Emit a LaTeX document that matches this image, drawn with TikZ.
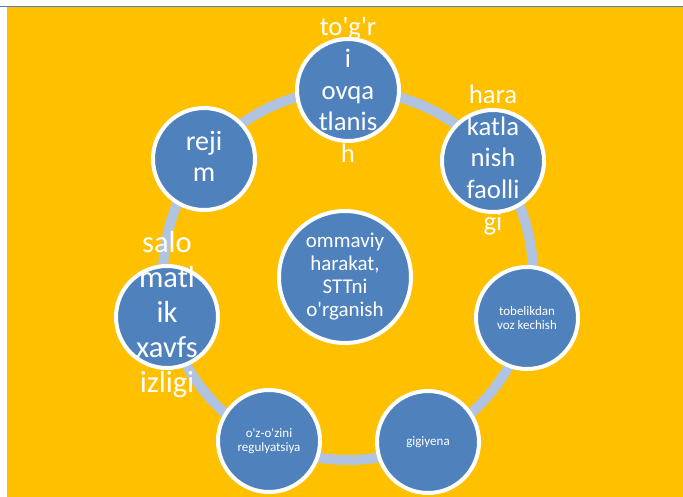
\documentclass[tikz,border=0pt]{standalone}
\usepackage{fontspec}
\setmainfont{Carlito}[Ligatures=TeXOff]
\definecolor{bgorange}{HTML}{FFC000}
\definecolor{bubblue}{HTML}{4F81BD}
\definecolor{ringblue}{HTML}{B0C3E0}
\definecolor{topline}{HTML}{4F81BD}
\tikzset{
  bub/.style={circle, draw=white, line width=4pt, fill=bubblue, minimum size=102pt, inner sep=0pt},
  bigbub/.style={circle, draw=white, line width=4pt, fill=bubblue, minimum size=132pt, inner sep=0pt},
  ring/.style={draw=ringblue, line width=10pt},
  bigtxt/.style={text=white, align=center, font=\fontsize{26.7}{31.75}\selectfont, inner sep=0pt},
  hugetxt/.style={text=white, align=center, font=\fontsize{30.5}{35}\selectfont, inner sep=0pt},
  rejtxt/.style={text=white, align=center, font=\fontsize{28}{31}\selectfont, inner sep=0pt},
  midtxt/.style={text=white, align=center, font=\fontsize{21}{23}\selectfont, inner sep=0pt},
  smalltxt/.style={text=white, align=center, font=\fontsize{13}{14.5}\selectfont, inner sep=0pt}
}
\begin{document}
\begin{tikzpicture}[x=1pt,y=-1pt]
\useasboundingbox (0,0) rectangle (683,497);
\fill[white] (0,0) rectangle (683,497);
\fill[bgorange] (7,7) rectangle (683,497);
\draw[topline, line width=1.6pt] (0,6.5) -- (683,6.5);
\coordinate (c) at (348,275);
\draw[ring] (c) circle (185);
\node[bigbub] (center) at (345,277) {};
\node[bub] (n1) at (348,90) {};
\node[bub] (n2) at (493,161) {};
\node[bub] (n3) at (527,318) {};
\node[bub] (n4) at (428,442) {};
\node[bub] (n5) at (269,441) {};
\node[bub] (n6) at (167,317) {};
\node[bub] (n7) at (204,159) {};
\node[midtxt] (t0) at (center) {ommaviy\\harakat,\\STTni\\o'rganish};
\node[bigtxt] (t1) at (n1) {to'g'r\\i\\ovqa\\tlanis\\h};
\node[bigtxt] (t2) at ([yshift=1pt]n2) {hara\\katla\\nish\\faolli\\gi};
\node[smalltxt] (t3) at (n3) {tobelikdan\\voz kechish};
\node[smalltxt] (t4) at (n4) {gigiyena};
\node[smalltxt] (t5) at (n5) {o'z-o'zini\\regulyatsiya};
\node[hugetxt] (t6) at ([yshift=2pt]n6) {salo\\matl\\ik\\xavfs\\izligi};
\node[rejtxt] (t7) at ([yshift=3pt]n7) {reji\\m};
\end{tikzpicture}
\end{document}
